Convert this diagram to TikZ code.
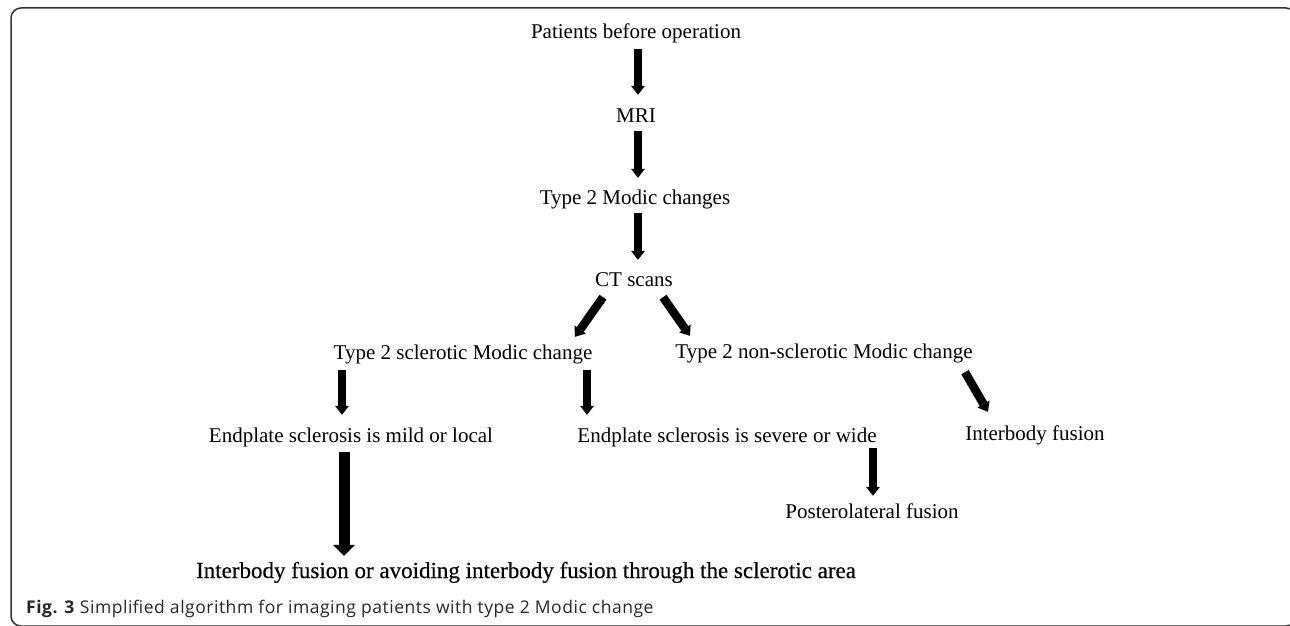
\documentclass[tikz,border=0pt]{standalone}
\usepackage{fontspec}
\setmainfont{Liberation Serif}
\newfontfamily\capfont[LetterSpace=3]{Open Sans}
\newfontfamily\heavyfont[FakeBold=0.4]{Liberation Serif}
\usetikzlibrary{arrows.meta}
\begin{document}
\begin{tikzpicture}[x=1pt,y=-1pt,
  lbl/.style={anchor=base, inner sep=0pt, text height=14pt, text depth=4pt, font=\fontsize{21}{25}\selectfont},
  arr/.style={line width=8.5pt, -{Triangle[width=14pt,length=9pt,line width=0pt]}},
  bigarr/.style={line width=11pt, -{Triangle[width=22pt,length=11pt,line width=0pt]}},
  frameline/.style={draw=black!80, line width=1.5pt, rounded corners=10pt}]
\useasboundingbox (0,0) rectangle (1290,626);
\begin{scope}
\clip (0,0) rectangle (1290,626);
\draw[frameline] (11,8) rectangle (1296,626);
\end{scope}
\node[lbl] (p1) at (636,39) {Patients before operation};
\node[lbl] (mri) at (636,122) {MRI};
\node[lbl] (t2) at (635,204) {Type 2 Modic changes};
\node[lbl] (ct) at (634,286) {CT scans};
\node[lbl] (scl) at (463,359) {Type 2 sclerotic Modic change};
\node[lbl] (nscl) at (824,358) {Type 2 non-sclerotic Modic change};
\node[lbl] (mild) at (351,442) {Endplate sclerosis is mild or local};
\node[lbl] (sev) at (727,442) {Endplate sclerosis is severe or wide};
\node[lbl] (ib) at (1035,440) {Interbody fusion};
\node[lbl] (post) at (872,518) {Posterolateral fusion};
\node[lbl, text height=15pt, text depth=5pt, font=\heavyfont\fontsize{23}{27}\selectfont] (fin) at (526,578) {Interbody fusion or avoiding interbody fusion through the sclerotic area};
\node[anchor=base west, inner sep=0pt, font=\capfont\fontsize{17.5}{21}\selectfont, text=black!85] (cap) at (26,613) {\textbf{Fig. 3} Simplified algorithm for imaging patients with type 2 Modic change};
\draw[arr] ([shift={(2pt,-6pt)}]p1.south) -- ([shift={(2pt,13pt)}]mri.north);
\draw[arr] ([shift={(2pt,-5pt)}]mri.south) -- ([shift={(3pt,12pt)}]t2.north);
\draw[arr] ([shift={(3pt,-5pt)}]t2.south) -- ([shift={(4pt,12pt)}]ct.north);
\draw[arr] ([shift={(-31pt,-7pt)}]ct.south) -- ([shift={(112pt,8pt)}]scl.north);
\draw[arr] ([shift={(29pt,-7pt)}]ct.south) -- ([shift={(-134pt,8pt)}]nscl.north);
\draw[arr] ([shift={(141pt,-10pt)}]nscl.south) -- ([shift={(-47pt,14pt)}]ib.north);
\draw[arr] ([shift={(-121pt,-7pt)}]scl.south) -- ([shift={(-9pt,13pt)}]mild.north);
\draw[arr] ([shift={(124pt,-7pt)}]scl.south) -- ([shift={(-140pt,13pt)}]sev.north);
\draw[bigarr] ([shift={(-7pt,-6pt)}]mild.south) -- ([shift={(-182pt,7pt)}]fin.north);
\draw[arr] ([shift={(146pt,-2pt)}]sev.south) -- ([shift={(1pt,8pt)}]post.north);
\end{tikzpicture}
\end{document}
